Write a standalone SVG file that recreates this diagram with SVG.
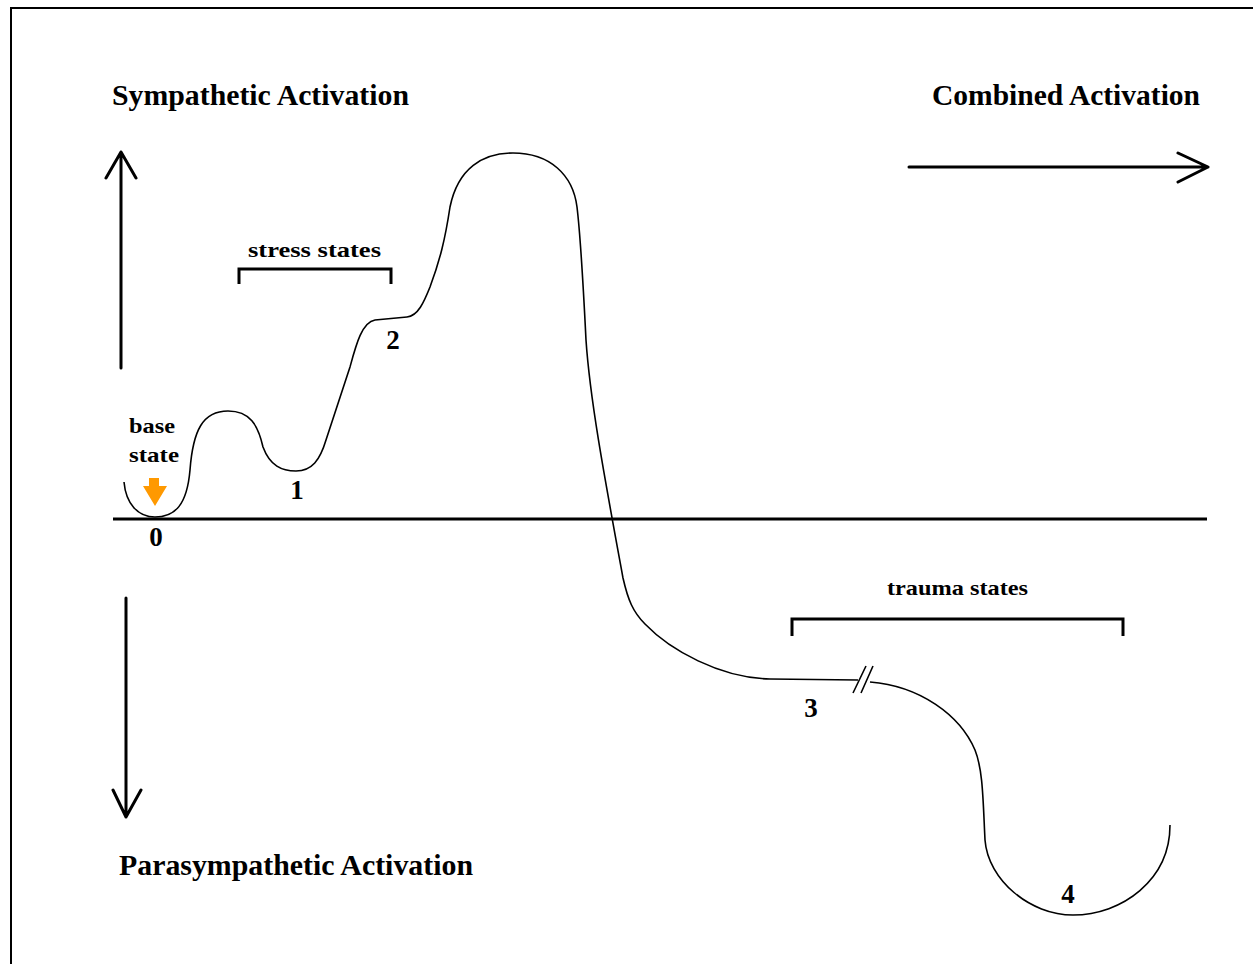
<svg xmlns="http://www.w3.org/2000/svg" width="1253" height="964" viewBox="0 0 1253 964">
<style>
.t{font-family:"Liberation Serif","Times New Roman",serif;font-weight:bold;fill:#000}
.big{font-size:29px}
.mid{font-size:22px}
.num{font-size:27px;text-anchor:middle}
.ax{stroke:#000;stroke-width:3;fill:none;stroke-linecap:round;stroke-linejoin:round}
.br{stroke:#000;stroke-width:3;fill:none}
.cv{stroke:#000;stroke-width:1.6;fill:none}
</style>
<rect x="0" y="0" width="1253" height="964" fill="#fff"/>
<path d="M11,964 L11,8 L1253,8" stroke="#000" stroke-width="2" fill="none"/>
<g id="labels">
<text class="t big" x="112" y="105" textLength="297" lengthAdjust="spacingAndGlyphs">Sympathetic Activation</text>
<text class="t big" x="932" y="105" textLength="268" lengthAdjust="spacingAndGlyphs">Combined Activation</text>
<text class="t big" x="119" y="875" textLength="354" lengthAdjust="spacingAndGlyphs">Parasympathetic Activation</text>
</g>
<g id="connectors">
<path class="ax" d="M121,368 L121,152 M106,178 L121,152 L136,178"/>
<path class="ax" d="M126,598 L126,817 M113,790 L126,817 L141,790"/>
<path class="ax" d="M909,167 L1208,167 M1178,153 L1208,167 L1178,182"/>
<line x1="113" y1="519" x2="1207" y2="519" stroke="#000" stroke-width="3"/>
</g>
<g id="stress-states">
<path class="br" d="M239,284 L239,269 L391,269 L391,284"/>
<text class="t mid" x="248" y="257" textLength="133" lengthAdjust="spacingAndGlyphs">stress states</text>
</g>
<g id="trauma-states">
<path class="br" d="M792,636 L792,619 L1123,619 L1123,636"/>
<text class="t mid" x="887" y="595" textLength="141" lengthAdjust="spacingAndGlyphs">trauma states</text>
</g>
<g id="curve">
<path class="cv" d="M124,482 C126,504 138,517 155,517 C175,517 187,505 190,470 C193,430 203,411 228,411 C250,411 258,425 263,447 C270,466 282,471 296,471 C312,471 320,460 326,440 L350,367 C356,345 362,322 375,320 L407,317 C418,316 424,302 430,287 C440,260 445,240 450,207 C458,168 483,153 513,153 C550,153 573,175 577,207 C581,240 584,300 586,340 C590,400 605,480 623,578 C628,600 633,612 645,624 C670,650 720,678 770,679 L858,680"/>
<path class="cv" d="M870,682 C920,686 960,715 975,750 C983,770 983,800 985,840 C988,880 1030,915 1073,915 C1122,915 1170,880 1170,825"/>
<path class="cv" d="M853,693 L866,666 M861,693 L873,666"/>
</g>
<g id="state-0">
<text class="t mid" x="129" y="433" textLength="46" lengthAdjust="spacingAndGlyphs">base</text>
<text class="t mid" x="129" y="462" textLength="50" lengthAdjust="spacingAndGlyphs">state</text>
<path d="M149,478 L159,478 L159,486 L167,486 L155,506 L143,486 L149,486 Z" fill="#FF9900"/>
<text class="t num" x="156" y="546">0</text>
</g>
<g id="state-1"><text class="t num" x="297" y="499">1</text></g>
<g id="state-2"><text class="t num" x="393" y="349">2</text></g>
<g id="state-3"><text class="t num" x="811" y="717">3</text></g>
<g id="state-4"><text class="t num" x="1068" y="903">4</text></g>
</svg>
